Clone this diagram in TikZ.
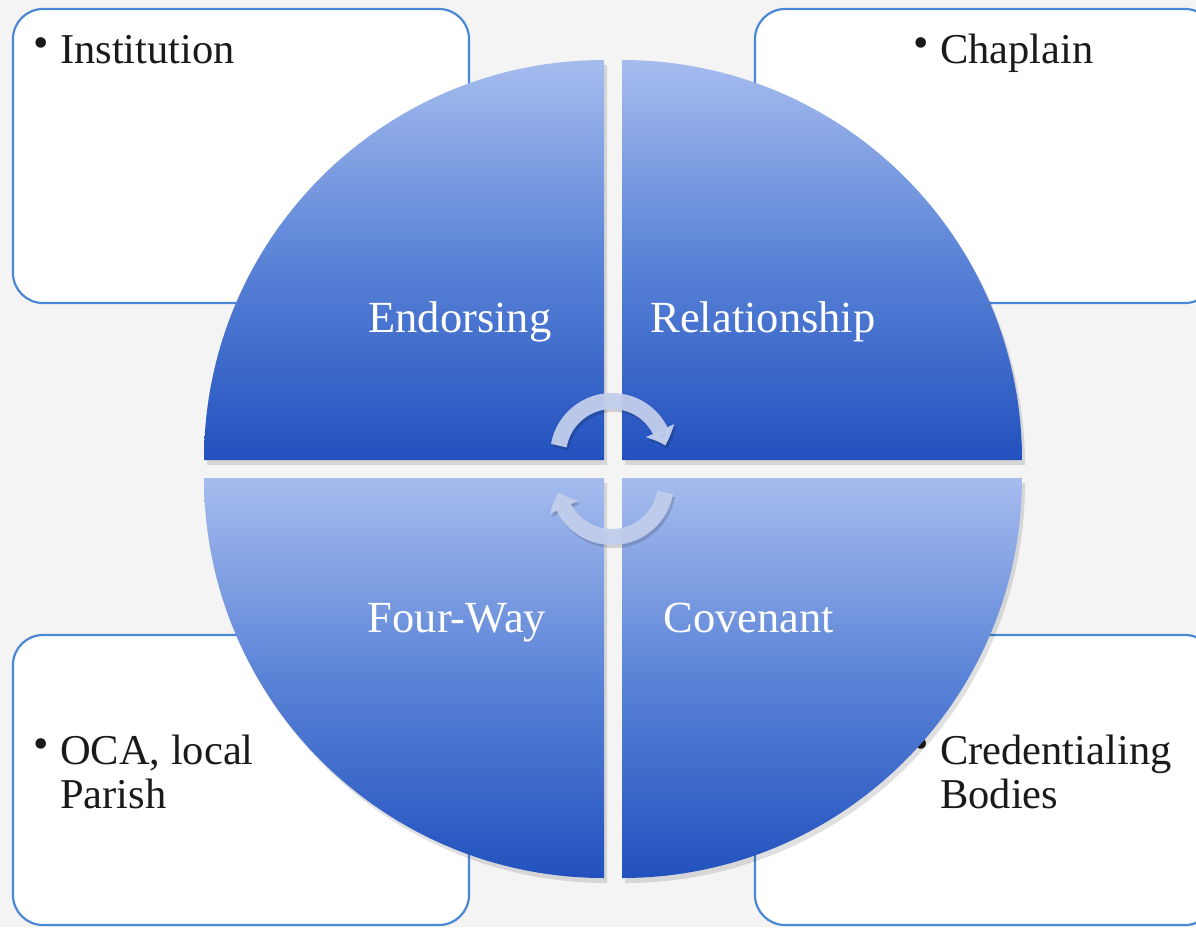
\documentclass[tikz,border=0pt]{standalone}
\usepackage{fontspec}
\setmainfont{Liberation Serif}
\usetikzlibrary{arrows.meta,bending}
\definecolor{bg}{HTML}{F4F4F4}
\definecolor{boxline}{HTML}{4A88D6}
\definecolor{qlight}{HTML}{A6BCEE}
\definecolor{qmid}{HTML}{5A83D7}
\definecolor{qdark}{HTML}{2251BE}
\definecolor{arrowc}{HTML}{C2CEEC}
\definecolor{txt}{HTML}{1A1A1A}
\begin{document}
\begin{tikzpicture}[x=1pt,y=1pt,
  infobox/.style={draw=boxline, line width=2.2pt, fill=white, rounded corners=30pt},
  quad/.style={top color=qlight, bottom color=qdark, middle color=qmid},
  qshadow/.style={fill=black, opacity=0.12},
  qlabel/.style={text=white, font=\fontsize{44.5}{48}\selectfont, anchor=base, inner sep=0pt},
  boxtext/.style={text=txt, font=\fontsize{42.5}{48}\selectfont, anchor=base west, inner sep=0pt},
  dot/.style={text=txt, font=\fontsize{44}{44}\selectfont, inner sep=0pt},
  cyc/.style={draw=arrowc, opacity=0.95, line width=16pt, -{Triangle[width=30pt,length=16pt,bend]}},
  cycshadow/.style={draw=black, opacity=0.15, line width=16pt, -{Triangle[width=30pt,length=16pt,bend]}}
]
\useasboundingbox (0,0) rectangle (1196,-927);
\fill[bg] (0,0) rectangle (1196,-927);
\begin{scope}
  \clip (0,0) rectangle (1196,-927);
  % corner boxes
  \draw[infobox] (13,-9) rectangle (469,-303);
  \draw[infobox] (755,-9) rectangle (1215,-303);
  \draw[infobox] (13,-635) rectangle (469,-925);
  \draw[infobox] (755,-635) rectangle (1215,-925);
\end{scope}
% box texts
\node[dot] (d1) at (41,-48) {\textbullet};
\node[boxtext] (t1) at (60,-63) {Institution};
\node[dot] (d2) at (921,-48) {\textbullet};
\node[boxtext] (t2) at (940,-63) {Chaplain};
\node[dot] (d3) at (41,-749) {\textbullet};
\node[boxtext] (t3a) at (60,-764) {OCA, local};
\node[boxtext] (t3b) at (60,-808) {Parish};
\node[dot] (d4) at (921,-749) {\textbullet};
\node[boxtext] (t4a) at (940,-764) {Credentialing};
\node[boxtext] (t4b) at (940,-808) {Bodies};
% shadows of quadrants
\begin{scope}[shift={(3,-5)}]
  \fill[qshadow] (604,-460) -- (204,-460) arc[start angle=180, end angle=90, radius=400] -- cycle;
  \fill[qshadow] (622,-460) -- (622,-60) arc[start angle=90, end angle=0, radius=400] -- cycle;
  \fill[qshadow] (604,-478) -- (204,-478) arc[start angle=180, end angle=270, radius=400] -- cycle;
  \fill[qshadow] (622,-478) -- (1022,-478) arc[start angle=0, end angle=-90, radius=400] -- cycle;
\end{scope}
% quadrants
\shade[quad] (604,-460) -- (204,-460) arc[start angle=180, end angle=90, radius=400] -- cycle;
\shade[quad] (622,-460) -- (622,-60) arc[start angle=90, end angle=0, radius=400] -- cycle;
\shade[quad] (604,-478) -- (204,-478) arc[start angle=180, end angle=270, radius=400] -- cycle;
\shade[quad] (622,-478) -- (1022,-478) arc[start angle=0, end angle=-90, radius=400] -- cycle;
% quadrant labels
\node[qlabel] (endorsing) at (460,-332) {Endorsing};
\node[qlabel] (relationship) at (763,-332) {Relationship};
\node[qlabel] (fourway) at (457,-632) {Four-Way};
\node[qlabel] (covenant) at (749,-632) {Covenant};
% cycle arrows
\coordinate (ctop) at (612,-455);
\coordinate (cbot) at (612,-483);
\draw[cycshadow] ([shift={(170:54)}]ctop) ++(2,-3) arc[start angle=170, end angle=10, radius=54];
\draw[cyc] ([shift={(170:54)}]ctop) arc[start angle=170, end angle=10, radius=54];
\draw[cycshadow] ([shift={(-10:54)}]cbot) ++(2,-3) arc[start angle=-10, end angle=-170, radius=54];
\draw[cyc] ([shift={(-10:54)}]cbot) arc[start angle=-10, end angle=-170, radius=54];
\end{tikzpicture}
\end{document}
